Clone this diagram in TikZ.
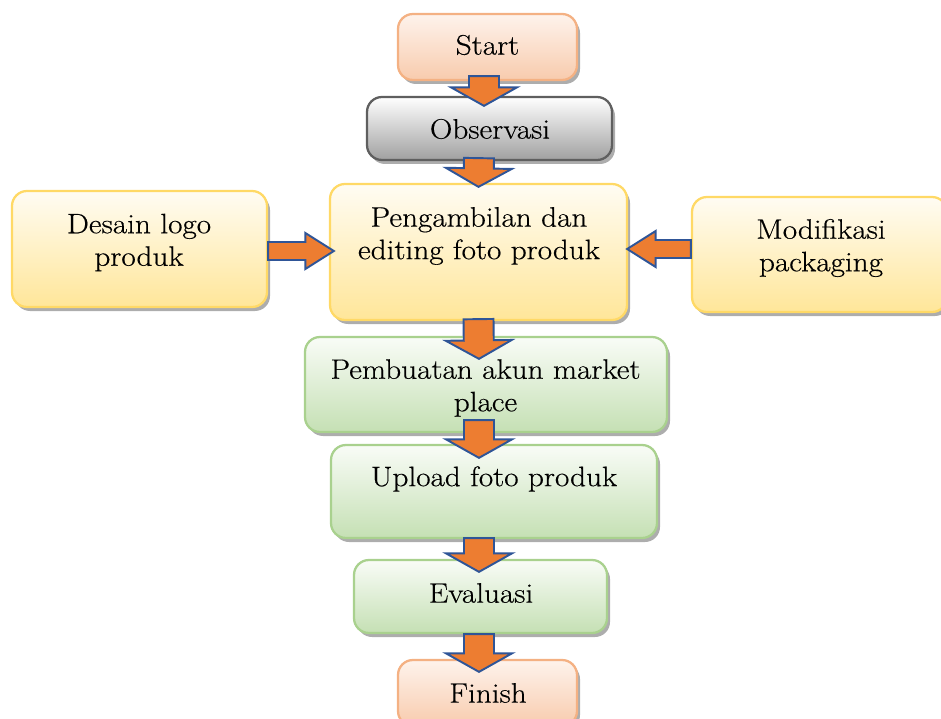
\documentclass[tikz,border=0pt]{standalone}
\usepackage{fontspec}
\setmainfont{Latin Modern Roman}[FakeStretch=1.11, FakeBold=0.4]
\usetikzlibrary{calc,shadows}

\definecolor{arroworange}{HTML}{ED7D31}
\definecolor{arrowblue}{HTML}{2F5597}
\definecolor{orangeline}{HTML}{F4B183}
\definecolor{orangetop}{HTML}{FEF3EC}
\definecolor{orangebottom}{HTML}{F8CBAD}
\definecolor{grayline}{HTML}{5F5F5F}
\definecolor{graybottom}{HTML}{A0A0A0}
\definecolor{yellowline}{HTML}{FFD966}
\definecolor{yellowtop}{HTML}{FFFCF3}
\definecolor{yellowbottom}{HTML}{FFE699}
\definecolor{greenline}{HTML}{A9D18E}
\definecolor{greentop}{HTML}{F9FCF7}
\definecolor{greenbottom}{HTML}{C5E0B4}

\tikzset{
  box/.style={rounded corners=0.3cm, line width=1.3pt, inner sep=0pt,
    drop shadow={shadow xshift=0.06cm, shadow yshift=-0.08cm, fill=black, opacity=0.32}},
  orangebox/.style={box, draw=orangeline, top color=orangetop, bottom color=orangebottom},
  graybox/.style={box, draw=grayline, top color=white, bottom color=graybottom},
  yellowbox/.style={box, draw=yellowline, top color=yellowtop, bottom color=yellowbottom},
  greenbox/.style={box, draw=greenline, top color=greentop, bottom color=greenbottom},
  lbl/.style={align=center, inner sep=0pt, font=\fontsize{16}{18.5}\selectfont},
  fatarrow/.style n args={3}{draw=arrowblue, fill=arroworange, line width=1.1pt,
    line join=miter,
    to path={
      (\tikztostart) coordinate (fa-tail)
      (\tikztotarget) coordinate (fa-tip)
      ($(fa-tip)!#3!(fa-tail)$) coordinate (fa-base)
      ($(fa-tail)!#1!90:(fa-tip)$)
      -- ($(fa-base)!#1!-90:(fa-tail)$)
      -- ($(fa-base)!#2!-90:(fa-tail)$)
      -- (fa-tip)
      -- ($(fa-base)!#2!90:(fa-tail)$)
      -- ($(fa-base)!#1!90:(fa-tail)$)
      -- ($(fa-tail)!#1!-90:(fa-tip)$)
      -- cycle}},
  downarrow/.style={fatarrow={0.3cm}{0.66cm}{0.37cm}},
  sidearrow/.style={fatarrow={0.18cm}{0.36cm}{0.57cm}}
}

\begin{document}
\begin{tikzpicture}

% Frame of the picture
\useasboundingbox (0,0) rectangle (18.82,-14.38);

% Boxes of the flow
\node[orangebox, minimum width=3.58cm, minimum height=1.32cm] (start) at (9.75,-0.94) {};
\node[graybox, minimum width=4.9cm, minimum height=1.26cm] (obs) at (9.79,-2.57) {};
\node[yellowbox, minimum width=5.94cm, minimum height=2.72cm] (foto) at (9.57,-5.04) {};
\node[yellowbox, minimum width=5.1cm, minimum height=2.32cm] (logo) at (2.79,-4.98) {};
\node[yellowbox, minimum width=5.1cm, minimum height=2.3cm] (pack) at (16.39,-5.09) {};
\node[greenbox, minimum width=7.24cm, minimum height=1.9cm] (akun) at (9.72,-7.69) {};
\node[greenbox, minimum width=6.52cm, minimum height=1.86cm] (upload) at (9.88,-9.83) {};
\node[greenbox, minimum width=5.06cm, minimum height=1.46cm] (eval) at (9.61,-11.93) {};
\node[orangebox, minimum width=3.58cm, minimum height=1.32cm] (finish) at (9.75,-13.86) {};

% Arrows between the boxes
\draw[downarrow] ([shift={(-0.07,0.1)}]start.south) to ([shift={(-0.11,-0.2)}]obs.north);
\draw[downarrow] ([shift={(-0.21,0.06)}]obs.south) to ([yshift=-0.08cm]foto.north);
\draw[downarrow] ([yshift=0.04cm]foto.south) to ([shift={(-0.14,-0.46)}]akun.north);
\draw[downarrow] ([shift={(-0.14,0.26)}]akun.south) to ([shift={(-0.3,-0.28)}]upload.north);
\draw[downarrow] ([shift={(-0.3,0.02)}]upload.south) to ([shift={(-0.03,-0.26)}]eval.north);
\draw[downarrow] ([xshift=-0.03cm]eval.south) to ([shift={(-0.17,-0.26)}]finish.north);
\draw[sidearrow] ([yshift=-0.04cm]logo.east) to ([shift={(0.1,0.02)}]foto.west);
\draw[sidearrow] ([yshift=0.11cm]pack.west) to ([shift={(-0.02,0.06)}]foto.east);

% Texts of the boxes
\node[lbl] (start-txt) at (9.75,-0.9) {Start};
\node[lbl] (obs-txt) at (9.8,-2.58) {Observasi};
\node[lbl] (foto-txt) at (9.58,-4.72) {Pengambilan dan\\editing foto produk};
\node[lbl] (logo-txt) at (2.78,-4.85) {Desain logo\\produk};
\node[lbl] (pack-txt) at (16.42,-4.96) {Modifikasi\\packaging};
\node[lbl] (akun-txt) at (9.71,-7.76) {Pembuatan akun market\\place};
\node[lbl] (upload-txt) at (9.88,-9.58) {Upload foto produk};
\node[lbl] (eval-txt) at (9.62,-11.86) {Evaluasi};
\node[lbl] (finish-txt) at (9.76,-13.86) {Finish};

\end{tikzpicture}
\end{document}
